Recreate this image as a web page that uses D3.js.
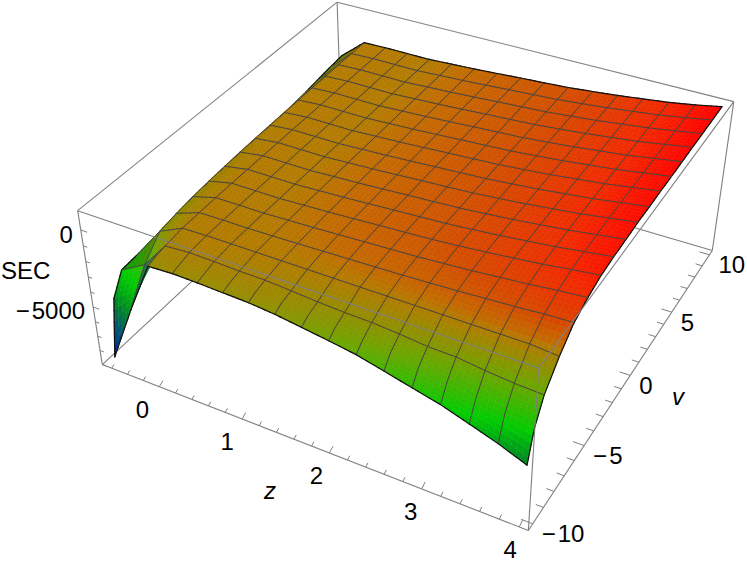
<!DOCTYPE html>
<html lang="en">
<head>
<meta charset="utf-8">
<title>SEC surface</title>
<script src="https://cdn.jsdelivr.net/npm/d3@7"></script>
<style>
  html, body { margin: 0; background: #fff; }
  text { font-family: "Liberation Sans", Arial, sans-serif; font-size: 24px; fill: #000; }
</style>
</head>
<body>
<script>
// mesh lines of the surface, -9.5 is one extra sample for the steep rim
var zValues = [-0.62, -0.3125, -0.025, 0.2625, 0.55, 0.8375, 1.125, 1.4125, 1.7, 1.9875, 2.275, 2.5625, 2.85, 3.1375, 3.425, 3.7125, 4];
var vValues = [-10, -9.5, -8.75, -7.5, -6.25, -5, -3.75, -2.5, -1.25, 0, 1.25, 2.5, 3.75, 5, 6.25, 7.5, 8.75, 10];
var extraV = -9.5;

// SEC, one row per z value
var secRows = [
  [-8600, -5000, -3700, -3600, -3500, -3440, -3390, -3290, -3190, -3130, -3030, -2930, -2830, -2680, -2570, -2420, -2270, -2170],
  [-4700, -3900, -2780, -1600, -1400, -1250, -1150, -1080, -1020, -980, -950, -920, -900, -880, -870, -860, -850, -840],
  [-1320, -1180, -1040, -890, -850, -828, -814, -810, -807, -804, -803, -802, -802, -801, -800, -800, -800, -800],
  [-1240, -1110, -930, -840, -826, -819, -815, -813, -812, -811, -811, -811, -811, -810, -810, -810, -810, -810],
  [-1270, -1140, -960, -840, -830, -826, -823, -822, -822, -821, -821, -821, -821, -820, -820, -820, -820, -820],
  [-1330, -1160, -1020, -840, -794, -771, -756, -751, -748, -745, -744, -743, -743, -742, -741, -740, -740, -740],
  [-1390, -1190, -1030, -840, -762, -723, -697, -689, -684, -678, -677, -675, -675, -673, -672, -670, -670, -670],
  [-1540, -1290, -1140, -840, -718, -657, -617, -604, -596, -587, -586, -583, -583, -580, -578, -575, -575, -575],
  [-1770, -1480, -1260, -840, -670, -585, -529, -511, -500, -487, -485, -481, -481, -477, -474, -470, -470, -470],
  [-2010, -1650, -1350, -840, -628, -523, -454, -431, -417, -401, -398, -394, -394, -389, -385, -380, -380, -380],
  [-2270, -1850, -1390, -840, -582, -454, -370, -342, -325, -305, -302, -297, -297, -291, -285, -280, -280, -280],
  [-2680, -2050, -1510, -840, -513, -350, -244, -208, -187, -162, -158, -151, -151, -144, -137, -130, -130, -130],
  [-3100, -2320, -1680, -840, -440, -240, -109, -66, -40, -9, -5, 4, 4, 13, 21, 30, 30, 30],
  [-3510, -2600, -1720, -840, -348, -102, 59, 112, 144, 182, 187, 198, 198, 209, 219, 230, 230, 230],
  [-4070, -3000, -1930, -840, -258, 33, 223, 286, 324, 368, 374, 387, 387, 400, 412, 425, 425, 425],
  [-4640, -3250, -2090, -840, -136, 216, 445, 522, 568, 621, 629, 644, 644, 660, 675, 690, 690, 690],
  [-5330, -3490, -2160, -980, -70, 350, 640, 740, 790, 860, 860, 890, 890, 920, 945, 950, 970, 1000]
];

var zTicks = [0, 1, 2, 3, 4];
var zMinorTicks = [-0.6, -0.4, -0.2, 0.2, 0.4, 0.6, 0.8, 1.2, 1.4, 1.6, 1.8, 2.2, 2.4, 2.6, 2.8, 3.2, 3.4, 3.6, 3.8];
var vTicks = [-10, -5, 0, 5, 10];
var vMinorTicks = [-9, -8, -7, -6, -4, -3, -2, -1, 1, 2, 3, 4, 6, 7, 8, 9];
var secTicks = [-5000, 0];
var secMinorTicks = [-9000, -8000, -7000, -6000, -4000, -3000, -2000, -1000];

var zDomain = [-0.72, 4.09];
var vDomain = [-10.4, 10.4];
var secDomain = [-9000, 1200];

var w = 747, h = 569;

var sx = d3.scaleLinear().domain(zDomain).range([0, 1]);
var sy = d3.scaleLinear().domain(vDomain).range([0, 1]);
var sz = d3.scaleLinear().domain(secDomain).range([0, 1]);

var color = d3.scaleLinear()
  .domain([-8600, -6500, -5300, -3700, -2000, -1300, -800, -670, -220, 425, 860, 1000])
  .range(["#001ea8", "#005a70", "#008228", "#00cd00", "#6ea500", "#968c00", "#b47a00", "#c36a00", "#d54b00", "#f32800", "#fd0a00", "#ff0000"]);

// cube corners on screen, the camera matrix is fitted to them
var corners = [
  [0, 0, 0, 102, 363], [1, 0, 0, 529, 531], [1, 1, 0, 713, 248], [0, 1, 0, 341, 145],
  [0, 0, 1, 78, 211], [1, 0, 1, 538, 369], [1, 1, 1, 733, 103], [0, 1, 1, 338, 0]
];

function fitCamera(pts) {
  var A = [], b = [];
  pts.forEach(function(p) {
    A.push([p[0], p[1], p[2], 1, 0, 0, 0, 0, -p[3] * p[0], -p[3] * p[1], -p[3] * p[2]]); b.push(p[3]);
    A.push([0, 0, 0, 0, p[0], p[1], p[2], 1, -p[4] * p[0], -p[4] * p[1], -p[4] * p[2]]); b.push(p[4]);
  });
  var n = 11, M = [];
  for (var i = 0; i < n; i++) {
    M.push([]);
    for (var j = 0; j < n; j++) M[i].push(d3.sum(A, function(r) { return r[i] * r[j]; }));
    M[i].push(d3.sum(A, function(r, k) { return r[i] * b[k]; }));
  }
  for (var c = 0; c < n; c++) {
    var best = c;
    for (var r = c + 1; r < n; r++) if (Math.abs(M[r][c]) > Math.abs(M[best][c])) best = r;
    var t = M[c]; M[c] = M[best]; M[best] = t;
    for (r = 0; r < n; r++) {
      if (r == c) continue;
      var f = M[r][c] / M[c][c];
      for (j = c; j <= n; j++) M[r][j] -= f * M[c][j];
    }
  }
  return M.map(function(row, i) { return row[n] / row[i]; });
}

var cam = fitCamera(corners);

function project(x, y, z) {
  var d = cam[8] * x + cam[9] * y + cam[10] * z + 1;
  return {
    x: (cam[0] * x + cam[1] * y + cam[2] * z + cam[3]) / d,
    y: (cam[4] * x + cam[5] * y + cam[6] * z + cam[7]) / d,
    d: d
  };
}

function at(zv, vv, sec) { return project(sx(zv), sy(vv), sz(sec)); }

var svg = d3.select("body").append("svg").attr("width", w).attr("height", h).style("display", "block");

function boxEdges(list) {
  svg.selectAll(null).data(list).enter().append("line")
    .attr("x1", function(e) { return project(e[0], e[1], e[2]).x; })
    .attr("y1", function(e) { return project(e[0], e[1], e[2]).y; })
    .attr("x2", function(e) { return project(e[3], e[4], e[5]).x; })
    .attr("y2", function(e) { return project(e[3], e[4], e[5]).y; })
    .attr("stroke", "#808080").attr("stroke-width", 1.1);
}

// back edges go under the surface
boxEdges([[0, 0, 0, 0, 1, 0], [0, 1, 0, 1, 1, 0], [0, 1, 0, 0, 1, 1], [0, 0, 1, 0, 1, 1], [0, 1, 1, 1, 1, 1], [1, 1, 0, 1, 1, 1]]);

// surface, each mesh cell split up so the colour runs smoothly over it
var sub = 5;
var items = [];

function node(a, b, u, t) {
  var a2 = Math.min(a + 1, zValues.length - 1), b2 = Math.min(b + 1, vValues.length - 1);
  var sec = (1 - u) * (1 - t) * secRows[a][b] + u * (1 - t) * secRows[a2][b] + (1 - u) * t * secRows[a][b2] + u * t * secRows[a2][b2];
  var zv = zValues[a] + (zValues[a2] - zValues[a]) * u;
  var vv = vValues[b] + (vValues[b2] - vValues[b]) * t;
  var p = at(zv, vv, sec);
  p.sec = sec;
  return p;
}

// cells past the ridge never hide a mesh line, so theirs go on top
function seg(a, p, q, stroke, width) {
  items.push({ d: "M" + p.x + "," + p.y + "L" + q.x + "," + q.y, stroke: stroke, width: width, depth: a < 2 ? (p.d + q.d) / 2 - 0.008 : -1 });
}

function cellColor(a, b, sec) {
  var c = color(sec);
  if (a == 1 && b < 2) return d3.interpolateRgb(c, "#0f6458")(0.75); // underside by the tip is dark
  if (a == 0 && b >= 2) return d3.rgb(c).darker(0.6).formatHex();
  return c;
}

for (var a = 0; a < zValues.length - 1; a++) {
  for (var b = 0; b < vValues.length - 1; b++) {
    for (var i = 0; i < sub; i++) {
      for (var j = 0; j < sub; j++) {
        var p00 = node(a, b, i / sub, j / sub), p10 = node(a, b, (i + 1) / sub, j / sub),
            p11 = node(a, b, (i + 1) / sub, (j + 1) / sub), p01 = node(a, b, i / sub, (j + 1) / sub);
        items.push({
          d: "M" + [p00, p10, p11, p01].map(function(p) { return p.x + "," + p.y; }).join("L") + "Z",
          fill: cellColor(a, b, (p00.sec + p10.sec + p11.sec + p01.sec) / 4),
          depth: (p00.d + p10.d + p11.d + p01.d) / 4
        });
        // mesh lines, and the rim in black
        if (i == 0) seg(a, p00, p01, a == 0 ? "#111" : "#4a4540", a == 0 ? 1.2 : 1);
        if (i == sub - 1 && a == zValues.length - 2) seg(a, p10, p11, "#111", 1.2);
        if (j == 0 && vValues[b] != extraV) seg(a, p00, p10, b == 0 ? "#111" : "#4a4540", b == 0 ? 1.2 : 1);
        if (j == sub - 1 && b == vValues.length - 2) seg(a, p01, p11, "#111", 1.2);
      }
    }
  }
}

items.sort(function(m, n) { return n.depth - m.depth; });

svg.append("g").selectAll("path").data(items).enter().append("path")
  .attr("d", function(m) { return m.d; })
  .attr("fill", function(m) { return m.fill || "none"; })
  .attr("stroke", function(m) { return m.fill || m.stroke; })
  .attr("stroke-width", function(m) { return m.fill ? 0.6 : m.width; })
  .attr("stroke-linecap", "round");

// front edges run over the surface
boxEdges([[0, 0, 0, 1, 0, 0], [1, 0, 0, 1, 1, 0], [0, 0, 0, 0, 0, 1], [1, 0, 0, 1, 0, 1], [0, 0, 1, 1, 0, 1], [1, 0, 1, 1, 1, 1]]);

function tick(p, q) {
  svg.append("line").attr("x1", p.x).attr("y1", p.y).attr("x2", q.x).attr("y2", q.y)
    .attr("stroke", "#808080").attr("stroke-width", 1);
}

var zSpan = zDomain[1] - zDomain[0], vSpan = vDomain[1] - vDomain[0], secSpan = secDomain[1] - secDomain[0];

function zTick(t, f) { tick(at(t, vDomain[0], secDomain[0]), at(t, vDomain[0] + f * vSpan, secDomain[0] + f * 1.1 * secSpan)); }
function vTick(t, f) { tick(at(zDomain[1], t, secDomain[0]), at(zDomain[1] - f * zSpan, t, secDomain[0])); }
function secTick(t, f) { tick(at(zDomain[0], vDomain[0], t), at(zDomain[0] + f * zSpan, vDomain[0], t)); }

zTicks.forEach(function(t) { zTick(t, 0.014); });
zMinorTicks.forEach(function(t) { zTick(t, 0.009); });
vTicks.forEach(function(t) { vTick(t, 0.024); });
vMinorTicks.forEach(function(t) { vTick(t, 0.016); });
secTicks.forEach(function(t) { secTick(t, 0.016); });
secMinorTicks.forEach(function(t) { secTick(t, 0.01); });

function label(p, str, dx, dy, anchor) {
  svg.append("text").attr("x", p.x + dx).attr("y", p.y + dy)
    .attr("text-anchor", anchor).attr("dominant-baseline", "central").text(str);
}

function minusText(t) { return t < 0 ? "\u2212\u200a" + Math.abs(t) : String(t); }

// z labels sit a bit further out towards the near corner
var zLabelDx = d3.scaleLinear().domain([0, 4]).range([-17, -9]);
zTicks.forEach(function(t) { label(at(t, vDomain[0], secDomain[0]), String(t), zLabelDx(t), 23, "middle"); });
vTicks.forEach(function(t) { label(at(zDomain[1], t, secDomain[0]), minusText(t), 9, 10, "start"); });
secTicks.forEach(function(t) { label(at(zDomain[0], vDomain[0], t), minusText(t), -8, 4, "end"); });

svg.append("text").attr("x", 1).attr("y", 270).attr("dominant-baseline", "central").text("SEC");
svg.append("text").attr("x", 270).attr("y", 490).attr("text-anchor", "middle").attr("dominant-baseline", "central").style("font-style", "italic").text("z");
svg.append("text").attr("x", 678).attr("y", 396).attr("text-anchor", "middle").attr("dominant-baseline", "central").style("font-style", "italic").text("v");
</script>
</body>
</html>
